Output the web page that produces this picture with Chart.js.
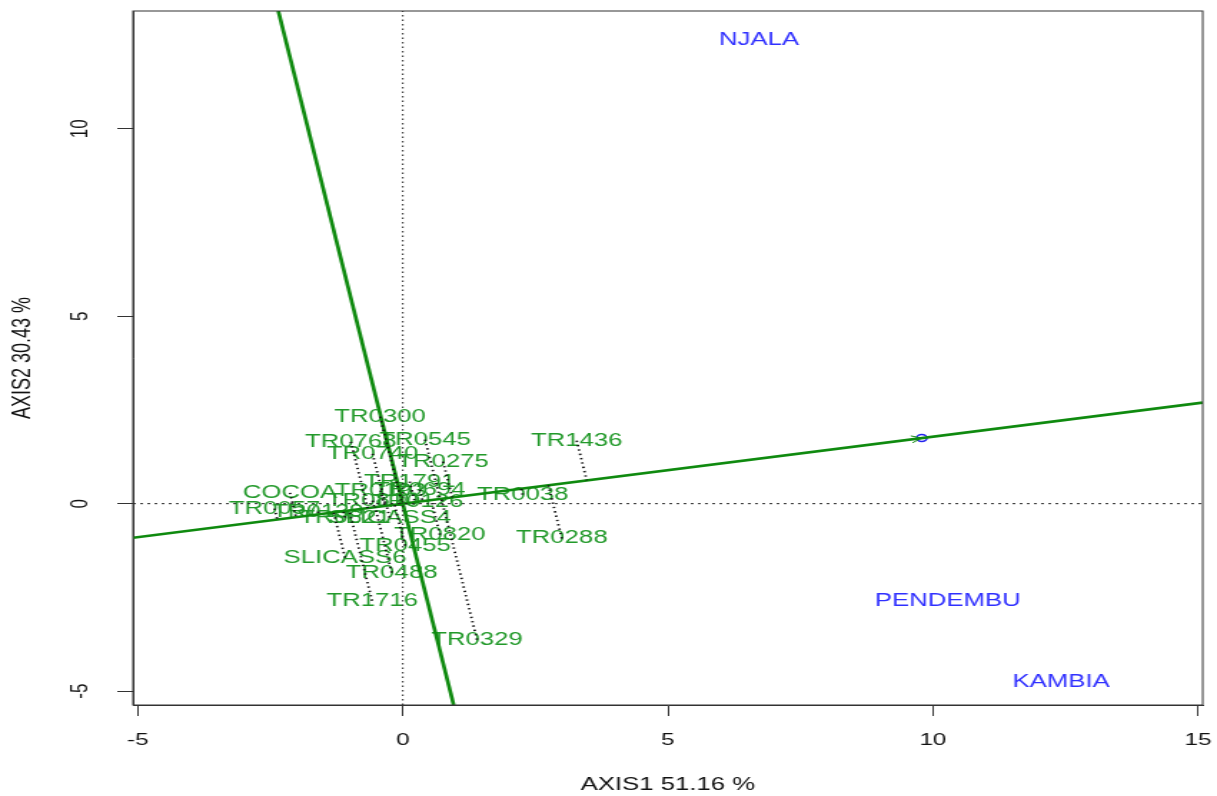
<!DOCTYPE html>
<html lang="en">
<head>
  <meta charset="UTF-8" />
  <title>GGE biplot - average environment view</title>
  <script src="https://cdn.jsdelivr.net/npm/chart.js"></script>
  <style>
    html, body { margin: 0; padding: 0; background: #fff; overflow: hidden; }
  </style>
</head>
<body>
  <!-- the original picture is stretched sideways, so the canvas is drawn narrow and shown wide -->
  <canvas id="biplot" width="851" height="796" style="display:block;width:1217px;height:796px;"></canvas>

  <script>
    // genotype scores (axis1, axis2)
    const genotypes = ['TR0300', 'TR0768', 'TR0545', 'TR0740', 'TR0275', 'TR1791', 'COCOA',
      'TR0193', 'TR0694', 'TR0810', 'TR0126', 'TR0057', 'TR0139', 'TR0621', 'SLICASS4',
      'TR0820', 'TR0455', 'SLICASS6', 'TR0488', 'TR1716', 'TR0329', 'TR1436', 'TR0038', 'TR0288'];
    const genoX = [-0.43, -0.98, 0.42, -0.57, 0.76, 0.13, -2.13,
      -0.42, 0.32, -0.57, 0.28, -2.42, -1.60, -1.09, -0.25,
      0.70, 0.04, -1.09, -0.21, -0.58, 1.40, 3.28, 2.26, 3.00];
    const genoY = [2.32, 1.65, 1.71, 1.33, 1.12, 0.59, 0.29,
      0.35, 0.37, 0.08, 0.05, -0.13, -0.21, -0.37, -0.37,
      -0.83, -1.12, -1.44, -1.84, -2.59, -3.63, 1.68, 0.24, -0.93];

    // environment scores
    const envs = ['NJALA', 'PENDEMBU', 'KAMBIA'];
    const envX = [6.72, 10.28, 12.42];
    const envY = [12.36, -2.59, -4.75];

    // average environment
    const avgEnv = [9.79, 1.75];

    const xTicks = [-5, 0, 5, 10, 15];
    const yTicks = [-5, 0, 5, 10];
    const xRange = [-5.09, 15.09];
    const yRange = [-5.37, 13.14];

    const FONT = 'Liberation Sans, Arial, sans-serif';
    const LINE_GREEN = '#0f8a0f';
    const TEXT_GREEN = '#22992a';
    const ENV_BLUE = '#3030ff';

    const slope = avgEnv[1] / avgEnv[0];

    function project(x, y) {
      const t = (x + slope * y) / (1 + slope * slope);
      return { x: t, y: t * slope };
    }

    const lineSet = (data, color, width, dash) => ({
      data: data,
      showLine: true,
      borderColor: color,
      borderWidth: width,
      borderDash: dash || [],
      pointRadius: 0,
      pointHoverRadius: 0
    });

    const datasets = [];
    // dotted reference lines through the origin
    datasets.push(lineSet([{ x: xRange[0], y: 0 }, { x: xRange[1], y: 0 }], '#222', 1, [2, 3]));
    datasets.push(lineSet([{ x: 0, y: yRange[0] }, { x: 0, y: yRange[1] }], '#222', 1, [1.5, 3]));
    // projections of each genotype on the average environment axis
    genotypes.forEach((g, i) => {
      const p = project(genoX[i], genoY[i]);
      datasets.push(lineSet([{ x: genoX[i], y: genoY[i] }, p], '#111', 1.8, [1.4, 3]));
    });
    // average environment axis and its perpendicular
    datasets.push(lineSet([{ x: xRange[0], y: xRange[0] * slope }, { x: xRange[1], y: xRange[1] * slope }], LINE_GREEN, 2.7));
    datasets.push(lineSet([{ x: -yRange[0] * slope, y: yRange[0] }, { x: -yRange[1] * slope, y: yRange[1] }], LINE_GREEN, 2.7));
    // average environment marker
    datasets.push({
      data: [{ x: avgEnv[0], y: avgEnv[1] }],
      pointRadius: 3.5,
      pointBorderColor: '#2222ee',
      pointBackgroundColor: 'rgba(0,0,0,0)',
      pointBorderWidth: 1.5,
      pointHoverRadius: 3.5
    });

    const labelPlugin = {
      id: 'labels',
      beforeDatasetsDraw(chart) {
        const ctx = chart.ctx;
        const xs = chart.scales.x, ys = chart.scales.y;
        ctx.save();
        ctx.font = '18px ' + FONT;
        ctx.textAlign = 'center';
        ctx.textBaseline = 'middle';
        ctx.fillStyle = TEXT_GREEN;
        genotypes.forEach((g, i) => {
          ctx.fillText(g, xs.getPixelForValue(genoX[i]), ys.getPixelForValue(genoY[i]));
        });
        ctx.fillStyle = ENV_BLUE;
        envs.forEach((e, i) => {
          ctx.fillText(e, xs.getPixelForValue(envX[i]), ys.getPixelForValue(envY[i]));
        });
        ctx.restore();
      },
      afterDatasetsDraw(chart) {
        const ctx = chart.ctx;
        const xs = chart.scales.x, ys = chart.scales.y;
        // small arrow head at the average environment
        const ox = xs.getPixelForValue(0), oy = ys.getPixelForValue(0);
        const tx = xs.getPixelForValue(avgEnv[0]), ty = ys.getPixelForValue(avgEnv[1]);
        const ang = Math.atan2(ty - oy, tx - ox);
        const len = 8;
        ctx.save();
        ctx.strokeStyle = LINE_GREEN;
        ctx.lineWidth = 1;
        ctx.beginPath();
        [-0.45, 0.45].forEach(d => {
          ctx.moveTo(tx, ty);
          ctx.lineTo(tx - len * Math.cos(ang + d), ty - len * Math.sin(ang + d));
        });
        ctx.stroke();
        // plot box
        const a = chart.chartArea;
        ctx.strokeStyle = '#333';
        ctx.strokeRect(a.left, a.top, a.right - a.left, a.bottom - a.top);
        ctx.restore();
      }
    };

    new Chart(document.getElementById('biplot'), {
      type: 'scatter',
      data: { datasets: datasets },
      options: {
        responsive: false,
        animation: false,
        devicePixelRatio: 1,
        layout: { padding: { top: 11, right: 10, left: 0, bottom: 0 } },
        plugins: { legend: { display: false }, tooltip: { enabled: false } },
        scales: {
          x: {
            type: 'linear',
            position: 'bottom',
            min: xRange[0],
            max: xRange[1],
            afterBuildTicks: s => { s.ticks = xTicks.map(v => ({ value: v })); },
            afterFit: s => { s.height = 91; s.paddingLeft = 0; s.paddingRight = 0; },
            ticks: { font: { family: FONT, size: 17 }, color: '#111', padding: 14, autoSkip: false, maxRotation: 0 },
            grid: { drawOnChartArea: false, drawTicks: true, tickLength: 11, color: '#333' },
            border: { display: true, color: '#333' },
            title: { display: true, text: 'AXIS1 51.16 %', font: { family: FONT, size: 18 }, color: '#111', padding: { top: 0, bottom: 0 } }
          },
          y: {
            type: 'linear',
            position: 'left',
            min: yRange[0],
            max: yRange[1],
            afterBuildTicks: s => { s.ticks = yTicks.map(v => ({ value: v })); },
            afterFit: s => { s.width = 93; s.paddingTop = 0; s.paddingBottom = 0; },
            ticks: { font: { family: FONT, size: 17 }, color: '#111', padding: 16, autoSkip: false, minRotation: 90, maxRotation: 90, crossAlign: 'center' },
            grid: { drawOnChartArea: false, drawTicks: true, tickLength: 11, color: '#333' },
            border: { display: true, color: '#333' },
            title: { display: true, text: 'AXIS2 30.43 %', font: { family: FONT, size: 18 }, color: '#111', padding: { top: 5, bottom: 0 } }
          }
        }
      },
      plugins: [labelPlugin]
    });
  </script>
</body>
</html>
